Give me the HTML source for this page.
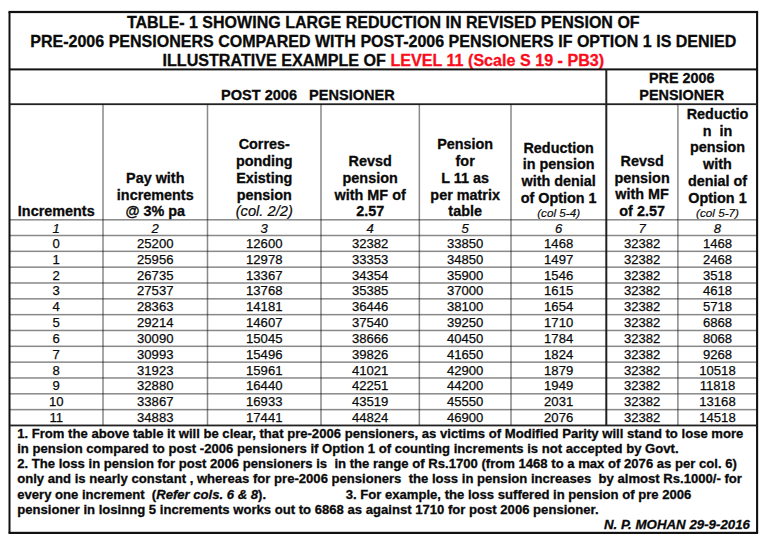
<!DOCTYPE html>
<html lang="en"><head><meta charset="utf-8"><title>Table 1</title><style>
html,body{margin:0;padding:0;background:#fff}
body{width:768px;height:543px;position:relative;overflow:hidden;font-family:"Liberation Sans",sans-serif;color:#0a0a0a}
.l{position:absolute}
.t{position:absolute;height:0;line-height:0;text-align:center;white-space:nowrap}
.b{font-weight:bold;-webkit-text-stroke:0.3px currentColor}
.i{font-style:italic;-webkit-text-stroke:0.2px currentColor}
.n{font-weight:normal;-webkit-text-stroke:0.25px currentColor}
.r{color:#fb0d1b}
.f{text-align:left}
.a{text-align:right}
.gap{display:inline-block;width:79.6px}
</style></head><body>
<div class="t b" style="left:9.50px;width:747.60px;top:22.34px;font-size:16.05px;">TABLE- 1 SHOWING LARGE REDUCTION IN REVISED PENSION OF</div>
<div class="t b" style="left:9.50px;width:747.60px;top:41.29px;font-size:16.05px;">PRE-2006 PENSIONERS COMPARED WITH POST-2006 PENSIONERS IF OPTION 1 IS DENIED</div>
<div class="t b" style="left:9.50px;width:747.60px;top:59.61px;font-size:16.13px;">ILLUSTRATIVE EXAMPLE OF <span class="r">LEVEL 11 (Scale S 19 - PB3)</span></div>
<div class="t b" style="left:9.50px;width:596.80px;top:94.66px;font-size:14.55px;">POST 2006&nbsp;&nbsp; PENSIONER</div>
<div class="t b" style="left:606.30px;width:150.80px;top:78.31px;font-size:14.4px;">PRE 2006</div>
<div class="t b" style="left:606.30px;width:150.80px;top:94.81px;font-size:14.4px;">PENSIONER</div>
<div class="t b" style="left:9.50px;width:93.50px;top:211.26px;font-size:14.4px;">Increments</div>
<div class="t b" style="left:103.00px;width:104.50px;top:211.26px;font-size:14.4px;">@ 3% pa</div>
<div class="t b" style="left:103.00px;width:104.50px;top:194.54px;font-size:14.4px;">increments</div>
<div class="t b" style="left:103.00px;width:104.50px;top:177.82px;font-size:14.4px;">Pay with</div>
<div class="t i" style="left:207.50px;width:113.50px;top:211.16px;font-size:14.7px;">(col. 2/2)</div>
<div class="t b" style="left:207.50px;width:113.50px;top:194.54px;font-size:14.4px;">pension</div>
<div class="t b" style="left:207.50px;width:113.50px;top:177.82px;font-size:14.4px;">Existing</div>
<div class="t b" style="left:207.50px;width:113.50px;top:161.10px;font-size:14.4px;">ponding</div>
<div class="t b" style="left:207.50px;width:113.50px;top:144.38px;font-size:14.4px;">Corres-</div>
<div class="t b" style="left:321.00px;width:98.35px;top:211.26px;font-size:14.4px;">2.57</div>
<div class="t b" style="left:321.00px;width:98.35px;top:194.54px;font-size:14.4px;">with MF of</div>
<div class="t b" style="left:321.00px;width:98.35px;top:177.82px;font-size:14.4px;">pension</div>
<div class="t b" style="left:321.00px;width:98.35px;top:161.10px;font-size:14.4px;">Revsd</div>
<div class="t b" style="left:419.35px;width:91.65px;top:211.26px;font-size:14.4px;">table</div>
<div class="t b" style="left:419.35px;width:91.65px;top:194.54px;font-size:14.4px;">per matrix</div>
<div class="t b" style="left:419.35px;width:91.65px;top:177.82px;font-size:14.4px;">L 11 as</div>
<div class="t b" style="left:419.35px;width:91.65px;top:161.10px;font-size:14.4px;">for</div>
<div class="t b" style="left:419.35px;width:91.65px;top:144.38px;font-size:14.4px;">Pension</div>
<div class="t i" style="left:511.00px;width:95.30px;top:212.75px;font-size:11.7px;">(col 5-4)</div>
<div class="t b" style="left:511.00px;width:95.30px;top:197.71px;font-size:14.4px;">of Option 1</div>
<div class="t b" style="left:511.00px;width:95.30px;top:180.99px;font-size:14.4px;">with denial</div>
<div class="t b" style="left:511.00px;width:95.30px;top:164.27px;font-size:14.4px;">in pension</div>
<div class="t b" style="left:511.00px;width:95.30px;top:147.55px;font-size:14.4px;">Reduction</div>
<div class="t b" style="left:606.30px;width:71.60px;top:210.51px;font-size:14.4px;">of 2.57</div>
<div class="t b" style="left:606.30px;width:71.60px;top:194.01px;font-size:14.4px;">with MF</div>
<div class="t b" style="left:606.30px;width:71.60px;top:177.51px;font-size:14.4px;">pension</div>
<div class="t b" style="left:606.30px;width:71.60px;top:161.01px;font-size:14.4px;">Revsd</div>
<div class="t i" style="left:677.90px;width:79.20px;top:213.05px;font-size:11.7px;">(col 5-7)</div>
<div class="t b" style="left:677.90px;width:79.20px;top:197.51px;font-size:14.4px;">Option 1</div>
<div class="t b" style="left:677.90px;width:79.20px;top:180.79px;font-size:14.4px;">denial of</div>
<div class="t b" style="left:677.90px;width:79.20px;top:164.07px;font-size:14.4px;">with</div>
<div class="t b" style="left:677.90px;width:79.20px;top:147.35px;font-size:14.4px;">pension</div>
<div class="t b" style="left:677.90px;width:79.20px;top:130.63px;font-size:14.4px;">n&nbsp; in</div>
<div class="t b" style="left:677.90px;width:79.20px;top:113.91px;font-size:14.4px;">Reductio</div>
<div class="t i" style="left:9.50px;width:93.50px;top:228.56px;font-size:13.1px;">1</div>
<div class="t i" style="left:103.00px;width:104.50px;top:228.56px;font-size:13.1px;">2</div>
<div class="t i" style="left:207.50px;width:113.50px;top:228.56px;font-size:13.1px;">3</div>
<div class="t i" style="left:321.00px;width:98.35px;top:228.56px;font-size:13.1px;">4</div>
<div class="t i" style="left:419.35px;width:91.65px;top:228.56px;font-size:13.1px;">5</div>
<div class="t i" style="left:511.00px;width:95.30px;top:228.56px;font-size:13.1px;">6</div>
<div class="t i" style="left:606.30px;width:71.60px;top:228.56px;font-size:13.1px;">7</div>
<div class="t i" style="left:677.90px;width:79.20px;top:228.56px;font-size:13.1px;">8</div>
<div class="t n" style="left:9.50px;width:93.50px;top:243.99px;font-size:13.1px;">0</div>
<div class="t n" style="left:103.00px;width:104.50px;top:243.99px;font-size:13.1px;">25200</div>
<div class="t n" style="left:207.50px;width:113.50px;top:243.99px;font-size:13.1px;">12600</div>
<div class="t n" style="left:321.00px;width:98.35px;top:243.99px;font-size:13.1px;">32382</div>
<div class="t n" style="left:419.35px;width:91.65px;top:243.99px;font-size:13.1px;">33850</div>
<div class="t n" style="left:511.00px;width:95.30px;top:243.99px;font-size:13.1px;">1468</div>
<div class="t n" style="left:606.30px;width:71.60px;top:243.99px;font-size:13.1px;">32382</div>
<div class="t n" style="left:677.90px;width:79.20px;top:243.99px;font-size:13.1px;">1468</div>
<div class="t n" style="left:9.50px;width:93.50px;top:259.82px;font-size:13.1px;">1</div>
<div class="t n" style="left:103.00px;width:104.50px;top:259.82px;font-size:13.1px;">25956</div>
<div class="t n" style="left:207.50px;width:113.50px;top:259.82px;font-size:13.1px;">12978</div>
<div class="t n" style="left:321.00px;width:98.35px;top:259.82px;font-size:13.1px;">33353</div>
<div class="t n" style="left:419.35px;width:91.65px;top:259.82px;font-size:13.1px;">34850</div>
<div class="t n" style="left:511.00px;width:95.30px;top:259.82px;font-size:13.1px;">1497</div>
<div class="t n" style="left:606.30px;width:71.60px;top:259.82px;font-size:13.1px;">32382</div>
<div class="t n" style="left:677.90px;width:79.20px;top:259.82px;font-size:13.1px;">2468</div>
<div class="t n" style="left:9.50px;width:93.50px;top:275.65px;font-size:13.1px;">2</div>
<div class="t n" style="left:103.00px;width:104.50px;top:275.65px;font-size:13.1px;">26735</div>
<div class="t n" style="left:207.50px;width:113.50px;top:275.65px;font-size:13.1px;">13367</div>
<div class="t n" style="left:321.00px;width:98.35px;top:275.65px;font-size:13.1px;">34354</div>
<div class="t n" style="left:419.35px;width:91.65px;top:275.65px;font-size:13.1px;">35900</div>
<div class="t n" style="left:511.00px;width:95.30px;top:275.65px;font-size:13.1px;">1546</div>
<div class="t n" style="left:606.30px;width:71.60px;top:275.65px;font-size:13.1px;">32382</div>
<div class="t n" style="left:677.90px;width:79.20px;top:275.65px;font-size:13.1px;">3518</div>
<div class="t n" style="left:9.50px;width:93.50px;top:291.48px;font-size:13.1px;">3</div>
<div class="t n" style="left:103.00px;width:104.50px;top:291.48px;font-size:13.1px;">27537</div>
<div class="t n" style="left:207.50px;width:113.50px;top:291.48px;font-size:13.1px;">13768</div>
<div class="t n" style="left:321.00px;width:98.35px;top:291.48px;font-size:13.1px;">35385</div>
<div class="t n" style="left:419.35px;width:91.65px;top:291.48px;font-size:13.1px;">37000</div>
<div class="t n" style="left:511.00px;width:95.30px;top:291.48px;font-size:13.1px;">1615</div>
<div class="t n" style="left:606.30px;width:71.60px;top:291.48px;font-size:13.1px;">32382</div>
<div class="t n" style="left:677.90px;width:79.20px;top:291.48px;font-size:13.1px;">4618</div>
<div class="t n" style="left:9.50px;width:93.50px;top:307.31px;font-size:13.1px;">4</div>
<div class="t n" style="left:103.00px;width:104.50px;top:307.31px;font-size:13.1px;">28363</div>
<div class="t n" style="left:207.50px;width:113.50px;top:307.31px;font-size:13.1px;">14181</div>
<div class="t n" style="left:321.00px;width:98.35px;top:307.31px;font-size:13.1px;">36446</div>
<div class="t n" style="left:419.35px;width:91.65px;top:307.31px;font-size:13.1px;">38100</div>
<div class="t n" style="left:511.00px;width:95.30px;top:307.31px;font-size:13.1px;">1654</div>
<div class="t n" style="left:606.30px;width:71.60px;top:307.31px;font-size:13.1px;">32382</div>
<div class="t n" style="left:677.90px;width:79.20px;top:307.31px;font-size:13.1px;">5718</div>
<div class="t n" style="left:9.50px;width:93.50px;top:323.14px;font-size:13.1px;">5</div>
<div class="t n" style="left:103.00px;width:104.50px;top:323.14px;font-size:13.1px;">29214</div>
<div class="t n" style="left:207.50px;width:113.50px;top:323.14px;font-size:13.1px;">14607</div>
<div class="t n" style="left:321.00px;width:98.35px;top:323.14px;font-size:13.1px;">37540</div>
<div class="t n" style="left:419.35px;width:91.65px;top:323.14px;font-size:13.1px;">39250</div>
<div class="t n" style="left:511.00px;width:95.30px;top:323.14px;font-size:13.1px;">1710</div>
<div class="t n" style="left:606.30px;width:71.60px;top:323.14px;font-size:13.1px;">32382</div>
<div class="t n" style="left:677.90px;width:79.20px;top:323.14px;font-size:13.1px;">6868</div>
<div class="t n" style="left:9.50px;width:93.50px;top:338.97px;font-size:13.1px;">6</div>
<div class="t n" style="left:103.00px;width:104.50px;top:338.97px;font-size:13.1px;">30090</div>
<div class="t n" style="left:207.50px;width:113.50px;top:338.97px;font-size:13.1px;">15045</div>
<div class="t n" style="left:321.00px;width:98.35px;top:338.97px;font-size:13.1px;">38666</div>
<div class="t n" style="left:419.35px;width:91.65px;top:338.97px;font-size:13.1px;">40450</div>
<div class="t n" style="left:511.00px;width:95.30px;top:338.97px;font-size:13.1px;">1784</div>
<div class="t n" style="left:606.30px;width:71.60px;top:338.97px;font-size:13.1px;">32382</div>
<div class="t n" style="left:677.90px;width:79.20px;top:338.97px;font-size:13.1px;">8068</div>
<div class="t n" style="left:9.50px;width:93.50px;top:354.80px;font-size:13.1px;">7</div>
<div class="t n" style="left:103.00px;width:104.50px;top:354.80px;font-size:13.1px;">30993</div>
<div class="t n" style="left:207.50px;width:113.50px;top:354.80px;font-size:13.1px;">15496</div>
<div class="t n" style="left:321.00px;width:98.35px;top:354.80px;font-size:13.1px;">39826</div>
<div class="t n" style="left:419.35px;width:91.65px;top:354.80px;font-size:13.1px;">41650</div>
<div class="t n" style="left:511.00px;width:95.30px;top:354.80px;font-size:13.1px;">1824</div>
<div class="t n" style="left:606.30px;width:71.60px;top:354.80px;font-size:13.1px;">32382</div>
<div class="t n" style="left:677.90px;width:79.20px;top:354.80px;font-size:13.1px;">9268</div>
<div class="t n" style="left:9.50px;width:93.50px;top:370.63px;font-size:13.1px;">8</div>
<div class="t n" style="left:103.00px;width:104.50px;top:370.63px;font-size:13.1px;">31923</div>
<div class="t n" style="left:207.50px;width:113.50px;top:370.63px;font-size:13.1px;">15961</div>
<div class="t n" style="left:321.00px;width:98.35px;top:370.63px;font-size:13.1px;">41021</div>
<div class="t n" style="left:419.35px;width:91.65px;top:370.63px;font-size:13.1px;">42900</div>
<div class="t n" style="left:511.00px;width:95.30px;top:370.63px;font-size:13.1px;">1879</div>
<div class="t n" style="left:606.30px;width:71.60px;top:370.63px;font-size:13.1px;">32382</div>
<div class="t n" style="left:677.90px;width:79.20px;top:370.63px;font-size:13.1px;">10518</div>
<div class="t n" style="left:9.50px;width:93.50px;top:386.46px;font-size:13.1px;">9</div>
<div class="t n" style="left:103.00px;width:104.50px;top:386.46px;font-size:13.1px;">32880</div>
<div class="t n" style="left:207.50px;width:113.50px;top:386.46px;font-size:13.1px;">16440</div>
<div class="t n" style="left:321.00px;width:98.35px;top:386.46px;font-size:13.1px;">42251</div>
<div class="t n" style="left:419.35px;width:91.65px;top:386.46px;font-size:13.1px;">44200</div>
<div class="t n" style="left:511.00px;width:95.30px;top:386.46px;font-size:13.1px;">1949</div>
<div class="t n" style="left:606.30px;width:71.60px;top:386.46px;font-size:13.1px;">32382</div>
<div class="t n" style="left:677.90px;width:79.20px;top:386.46px;font-size:13.1px;">11818</div>
<div class="t n" style="left:9.50px;width:93.50px;top:402.29px;font-size:13.1px;">10</div>
<div class="t n" style="left:103.00px;width:104.50px;top:402.29px;font-size:13.1px;">33867</div>
<div class="t n" style="left:207.50px;width:113.50px;top:402.29px;font-size:13.1px;">16933</div>
<div class="t n" style="left:321.00px;width:98.35px;top:402.29px;font-size:13.1px;">43519</div>
<div class="t n" style="left:419.35px;width:91.65px;top:402.29px;font-size:13.1px;">45550</div>
<div class="t n" style="left:511.00px;width:95.30px;top:402.29px;font-size:13.1px;">2031</div>
<div class="t n" style="left:606.30px;width:71.60px;top:402.29px;font-size:13.1px;">32382</div>
<div class="t n" style="left:677.90px;width:79.20px;top:402.29px;font-size:13.1px;">13168</div>
<div class="t n" style="left:9.50px;width:93.50px;top:418.12px;font-size:13.1px;">11</div>
<div class="t n" style="left:103.00px;width:104.50px;top:418.12px;font-size:13.1px;">34883</div>
<div class="t n" style="left:207.50px;width:113.50px;top:418.12px;font-size:13.1px;">17441</div>
<div class="t n" style="left:321.00px;width:98.35px;top:418.12px;font-size:13.1px;">44824</div>
<div class="t n" style="left:419.35px;width:91.65px;top:418.12px;font-size:13.1px;">46900</div>
<div class="t n" style="left:511.00px;width:95.30px;top:418.12px;font-size:13.1px;">2076</div>
<div class="t n" style="left:606.30px;width:71.60px;top:418.12px;font-size:13.1px;">32382</div>
<div class="t n" style="left:677.90px;width:79.20px;top:418.12px;font-size:13.1px;">14518</div>
<div class="t b f" style="left:17.2px;width:740px;top:433.86px;font-size:13.1px">1. From the above table it will be clear, that pre-2006 pensioners, as victims of Modified Parity will stand to lose more</div>
<div class="t b f" style="left:17.2px;width:740px;top:449.06px;font-size:13.1px">in pension compared to post -2006 pensioners if Option 1 of counting increments is not accepted by Govt.</div>
<div class="t b f" style="left:17.2px;width:740px;top:464.26px;font-size:13.1px">2. The loss in pension for post 2006 pensioners is&nbsp; in the range of Rs.1700 (from 1468 to a max of 2076 as per col. 6)</div>
<div class="t b f" style="left:17.2px;width:740px;top:479.46px;font-size:13.1px">only and is nearly constant , whereas for pre-2006 pensioners&nbsp; the loss in pension increases&nbsp; by almost Rs.1000/- for</div>
<div class="t b f" style="left:17.2px;width:740px;top:494.66px;font-size:13.1px">every one increment&nbsp; (<i>Refer cols. 6 &amp; 8</i>).<span class="gap"></span>3. For example, the loss suffered in pension of pre 2006</div>
<div class="t b f" style="left:17.2px;width:740px;top:509.86px;font-size:13.1px">pensioner in losinng 5 increments works out to 6868 as against 1710 for post 2006 pensioner.</div>
<div class="t b bi a" style="left:500px;width:250px;top:524.59px;font-size:13.299999999999999px"><i>N. P. MOHAN 29-9-2016</i></div>
<svg class="l" width="768" height="543" viewBox="0 0 768 543" style="left:0;top:0"><rect x="8.50" y="10.90" width="749.60" height="2.2" fill="#111"/><rect x="8.50" y="531.80" width="749.60" height="2.2" fill="#111"/><rect x="8.50" y="12.00" width="2" height="520.90" fill="#111"/><rect x="756.05" y="12.00" width="2.1" height="520.90" fill="#111"/><rect x="9.50" y="68.40" width="747.60" height="2" fill="#111"/><rect x="9.50" y="103.30" width="747.60" height="1.8" fill="#222"/><rect x="9.50" y="424.56" width="747.60" height="1.8" fill="#222"/><rect x="605.30" y="69.40" width="2" height="356.06" fill="#222"/><rect x="9.50" y="219.05" width="747.60" height="1.5" fill="rgba(20,20,20,0.5)"/><rect x="9.50" y="234.75" width="747.60" height="1.5" fill="rgba(20,20,20,0.5)"/><rect x="9.50" y="250.58" width="747.60" height="1.5" fill="rgba(20,20,20,0.5)"/><rect x="9.50" y="266.41" width="747.60" height="1.5" fill="rgba(20,20,20,0.5)"/><rect x="9.50" y="282.24" width="747.60" height="1.5" fill="rgba(20,20,20,0.5)"/><rect x="9.50" y="298.07" width="747.60" height="1.5" fill="rgba(20,20,20,0.5)"/><rect x="9.50" y="313.90" width="747.60" height="1.5" fill="rgba(20,20,20,0.5)"/><rect x="9.50" y="329.73" width="747.60" height="1.5" fill="rgba(20,20,20,0.5)"/><rect x="9.50" y="345.56" width="747.60" height="1.5" fill="rgba(20,20,20,0.5)"/><rect x="9.50" y="361.39" width="747.60" height="1.5" fill="rgba(20,20,20,0.5)"/><rect x="9.50" y="377.22" width="747.60" height="1.5" fill="rgba(20,20,20,0.5)"/><rect x="9.50" y="393.05" width="747.60" height="1.5" fill="rgba(20,20,20,0.5)"/><rect x="9.50" y="408.88" width="747.60" height="1.5" fill="rgba(20,20,20,0.5)"/><rect x="102.25" y="104.20" width="1.5" height="321.26" fill="rgba(20,20,20,0.5)"/><rect x="206.75" y="104.20" width="1.5" height="321.26" fill="rgba(20,20,20,0.5)"/><rect x="320.25" y="104.20" width="1.5" height="321.26" fill="rgba(20,20,20,0.5)"/><rect x="418.60" y="104.20" width="1.5" height="321.26" fill="rgba(20,20,20,0.5)"/><rect x="510.25" y="104.20" width="1.5" height="321.26" fill="rgba(20,20,20,0.5)"/><rect x="677.15" y="104.20" width="1.5" height="321.26" fill="rgba(20,20,20,0.5)"/></svg>
</body></html>
